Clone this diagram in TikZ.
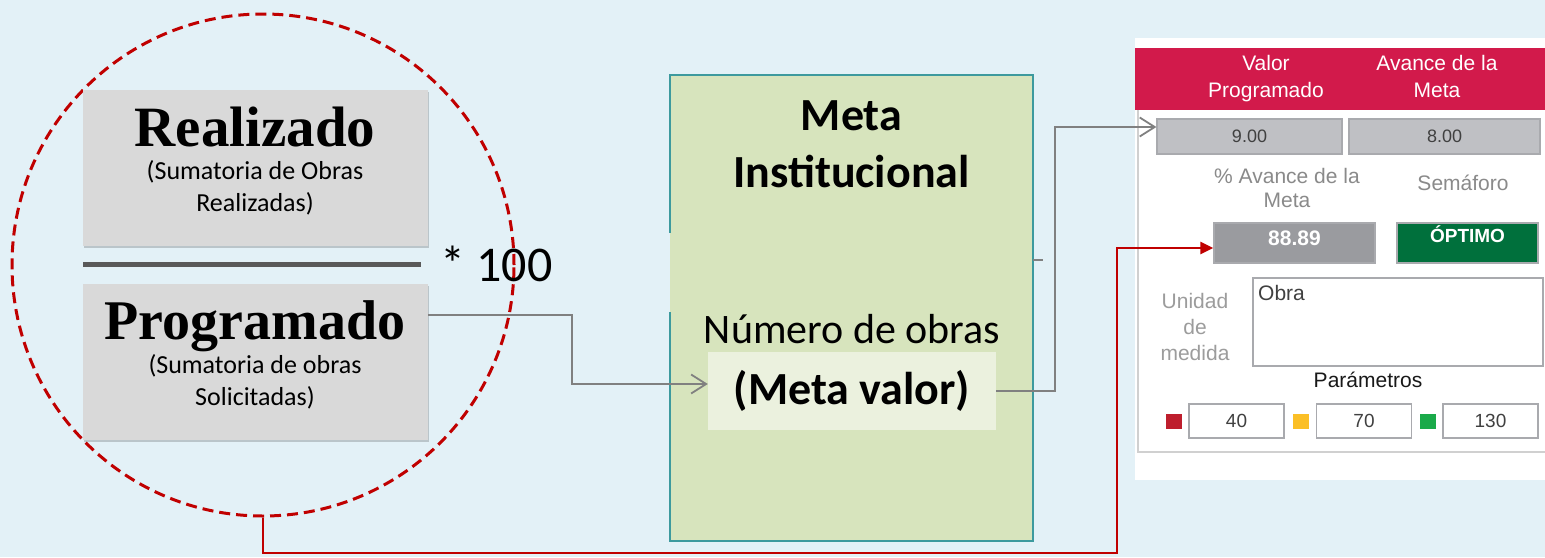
\documentclass[tikz,border=0pt]{standalone}
\usepackage{fontspec}
\setmainfont{Carlito}
\newfontfamily\serfont{Liberation Serif}
\newfontfamily\arialfont{Liberation Sans}
\usetikzlibrary{arrows.meta,shadows}
\definecolor{bgblue}{HTML}{E3F1F7}
\definecolor{darkred}{HTML}{C00000}
\definecolor{boxgray}{HTML}{D9D9D9}
\definecolor{divgray}{HTML}{595959}
\definecolor{conngray}{HTML}{808080}
\definecolor{metagreen}{HTML}{D7E4BD}
\definecolor{metaedge}{HTML}{3D9A9E}
\definecolor{mvfill}{HTML}{EBF1DE}
\definecolor{headred}{HTML}{D21A4B}
\definecolor{valfill}{HTML}{BFC0C4}
\definecolor{valedge}{HTML}{A9AAAE}
\definecolor{pctfill}{HTML}{9A9B9F}
\definecolor{optgreen}{HTML}{00703C}
\definecolor{framegray}{HTML}{D0D0D0}
\definecolor{labgray}{HTML}{8A8A8A}
\definecolor{txtdark}{HTML}{404040}
\definecolor{sqred}{HTML}{BE1E2D}
\definecolor{sqyellow}{HTML}{FBBF26}
\definecolor{sqgreen}{HTML}{1AAA4A}
\newcommand\fs[2]{\fontsize{#1}{#2}\selectfont}
\begin{document}
\begin{tikzpicture}[x=1pt,y=-1pt,
  graybox/.style={fill=boxgray, inner sep=0,
    drop shadow={shadow xshift=1pt, shadow yshift=-2pt, opacity=0.18, fill=black}},
  txt/.style={anchor=base, inner sep=0, align=center},
  conn/.style={draw=conngray, line width=1.8pt},
  redconn/.style={draw=darkred, line width=2.5pt},
  valbox/.style={fill=valfill, draw=valedge, line width=1.2pt, inner sep=0, minimum height=35pt,
    text=txtdark, font=\arialfont\fs{18}{18}},
  parbox/.style={fill=white, draw=valedge, line width=1.5pt, inner sep=0, minimum height=34pt,
    minimum width=95pt, text=txtdark, font=\arialfont\fs{19}{19}},
  sq/.style={inner sep=0, minimum width=16pt, minimum height=15pt},
  ptxt/.style={txt, font=\arialfont\fs{21}{24}}
]
\useasboundingbox (0,0) rectangle (1545,557);
\fill[bgblue] (0,0) rectangle (1545,557);

% dashed circle
\node[draw=darkred, line width=3pt, dash pattern=on 11pt off 6pt, circle,
  minimum size=502pt, inner sep=0] (circ) at (263,265) {};

% fraction
\node[graybox, minimum width=345pt, minimum height=156pt] (real) at (255.5,168) {};
\node[graybox, minimum width=345pt, minimum height=156pt] (prog) at (255.5,362) {};
\node[txt, font=\serfont\bfseries\fs{57}{57}] (realt) at (255,146) {Realizado};
\node[txt, font=\fs{26}{32}] (reals) at (255,211) {(Sumatoria de Obras\\Realizadas)};
\node[txt, font=\serfont\bfseries\fs{56}{56}] (progt) at (255,339) {Programado};
\node[txt, font=\fs{26}{32}] (progs) at (255,405) {(Sumatoria de obras\\Solicitadas)};
\draw[line width=5pt, divgray] (83,264) -- (421,264);
\node[anchor=base west, inner sep=0, font=\fs{50}{50}] (times) at (440,281) {* 100};

% meta box
\node[fill=metagreen, minimum width=363pt, minimum height=466pt, inner sep=0] (meta) at (851.5,308) {};
\draw[metaedge, line width=2pt] ([yshift=-158pt]meta.north west) -- (meta.north west)
  -- (meta.north east) -- (meta.south east) -- (meta.south west) -- ([yshift=229pt]meta.south west);
\node[txt, font=\bfseries\fs{46}{57}] (metat) at (851.5,187) {Meta\\Institucional};
\node[txt, font=\fs{42}{42}] (numt) at (852,343) {Número de obras};
\node[fill=mvfill, minimum width=288pt, minimum height=78pt, inner sep=0,
  font=\bfseries\fs{46}{46}] (mv) at (852,391) {(Meta valor)};

% panel
\node[fill=white, minimum width=410pt, minimum height=442pt, inner sep=0] (panel) at (1340,259) {};
\node[fill=headred, minimum width=410pt, minimum height=62pt, inner sep=0] (head) at (1340,79) {};
\node[ptxt, text=white, font=\arialfont\fs{21}{27}] (h1) at (1266,97) {Valor\\Programado};
\node[ptxt, text=white, font=\arialfont\fs{21}{27}] (h2) at (1437,97) {Avance de la\\Meta};
\draw[framegray, line width=2.5pt] (1138,110) -- (1138,452) -- (1545,452);

\node[valbox, minimum width=185pt] (v900) at (1249.5,136.5) {9.00};
\node[valbox, minimum width=191pt] (v800) at (1444.5,136.5) {8.00};
\node[ptxt, text=labgray] (pav) at (1287,207) {\% Avance de la\\Meta};
\node[ptxt, text=labgray] (sem) at (1463,190) {Semáforo};
\node[fill=pctfill, draw=valedge, line width=1.2pt, inner sep=0, minimum width=161pt,
  minimum height=40pt] (v8889) at (1294.5,243) {};
\node[txt, text=white, font=\arialfont\bfseries\fs{21}{21}] (v8889t) at (1294.5,245) {88.89};
\node[fill=optgreen, draw=valedge, line width=1.2pt, inner sep=0, minimum width=141pt,
  minimum height=40pt] (opt) at (1467.5,243) {};
\node[txt, text=white, font=\arialfont\bfseries\fs{19}{19}] (optt) at (1467.5,242) {ÓPTIMO};
\node[ptxt, text=labgray!85, font=\arialfont\fs{21}{26}] (unid) at (1195,360) {Unidad\\de\\medida};
\node[fill=white, draw=valedge, line width=1.5pt, inner sep=0, minimum width=290pt,
  minimum height=88pt] (obra) at (1398,322) {};
\node[anchor=base west, inner sep=0, text=txtdark, font=\arialfont\fs{21}{21}] (obrat) at (1258,300) {Obra};
\node[ptxt, text=black!90] (param) at (1368,387) {Parámetros};
\node[sq, fill=sqred] (sqr) at (1174,421.5) {};
\node[parbox] (p40) at (1236.5,421) {40};
\node[sq, fill=sqyellow] (sqy) at (1301,421.5) {};
\node[parbox] (p70) at (1364,421) {70};
\node[sq, fill=sqgreen] (sqg) at (1427.5,421.5) {};
\node[parbox] (p130) at (1490.5,421) {130};

% connectors
\draw[conn, -{Straight Barb[length=15pt,width=19pt]}] ([yshift=-31pt]prog.north east) -- ++(144,0) |- ([yshift=7pt]mv.west);
\draw[conn, -{Straight Barb[length=15pt,width=19pt]}] (mv.east) -- ++(59,0) |- ([yshift=9.5pt]v900.west);
\draw[conn] ([yshift=48pt]meta.east) -- ++(10,0);
\coordinate (rc) at (1117,553);
\draw[redconn, -{Triangle[length=13pt,width=12pt]}] (circ.south) |- (rc) |- ([yshift=-5pt]v8889.west);
\end{tikzpicture}
\end{document}
